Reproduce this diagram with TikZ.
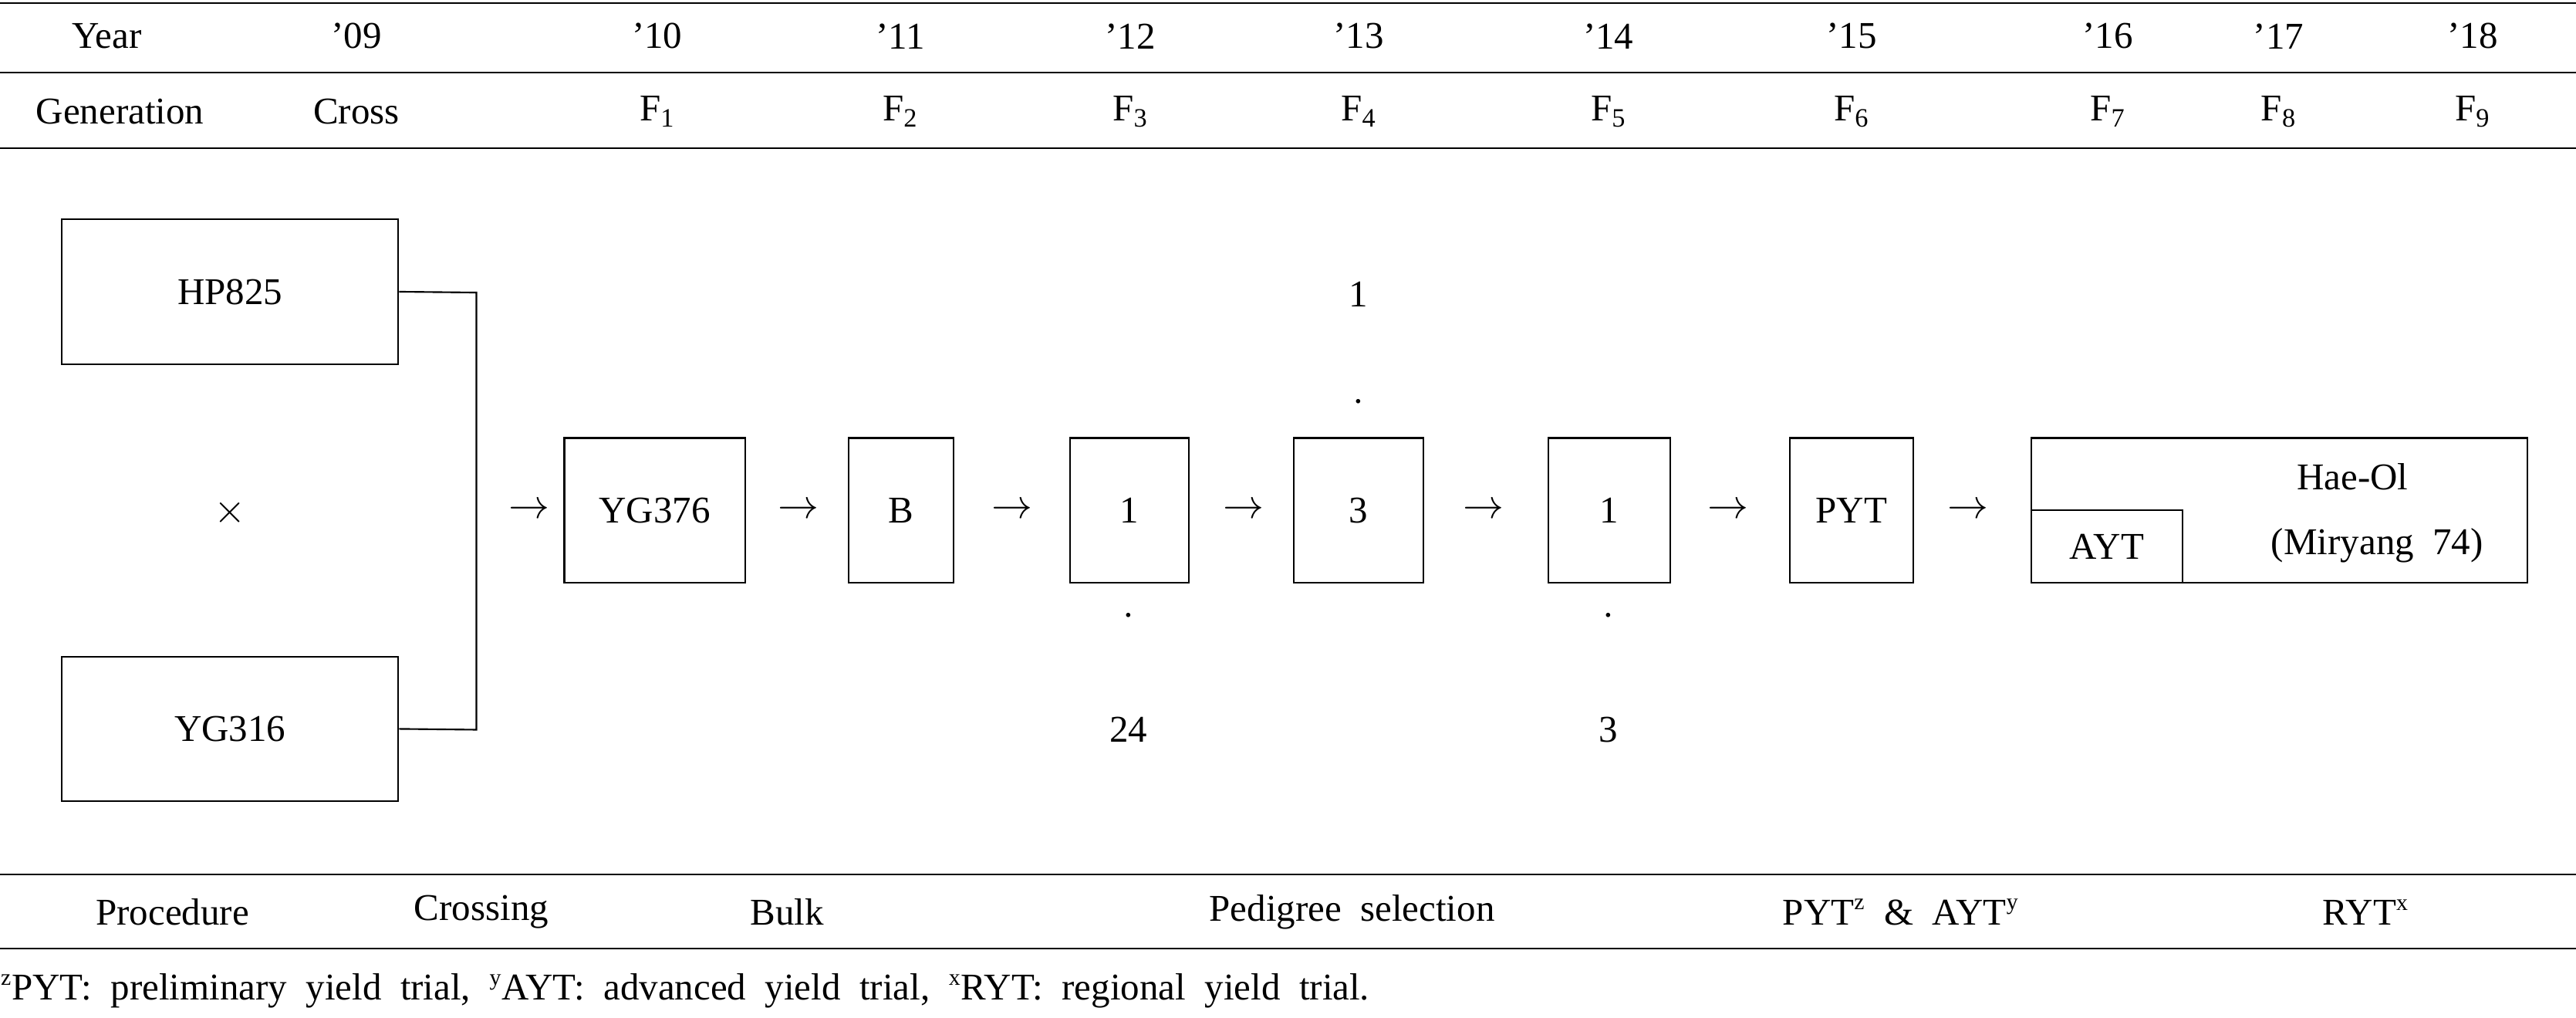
\documentclass[tikz,border=0pt]{standalone}
\usepackage{fontspec}
\setmainfont{Liberation Serif}
\begin{document}
\begin{tikzpicture}[x=1pt,y=1pt,line width=1pt,
  box/.style={draw,minimum width=#1,minimum height=88pt,inner sep=0pt,anchor=south west},
  txt/.style={inner sep=0pt,font=\fontsize{23}{27}\selectfont}]
\useasboundingbox (0,0) rectangle (1568,619);
\tikzset{every node/.append style={font=\fontsize{23}{27}\selectfont}}
% rules
\draw (0,617) -- (1568,617);
\draw (0,575) -- (1568,575);
\draw (0,529) -- (1568,529);
\draw (0,87) -- (1568,87);
\draw (0,42) -- (1568,42);
% header
\foreach \x/\t in {65/Year,217/'09,400/'10,548/'11,688/'12,827/'13,979/'14,1127/'15,1283/'16,1387/'17,1505/'18}
  \node[txt] (y\x) at (\x,597) {\t};
\node[txt] (g0) at (73,551) {Generation};
\node[txt] (g1) at (217,551) {Cross};
\foreach \x/\n in {400/1,548/2,688/3,827/4,979/5,1127/6,1283/7,1387/8,1505/9}
  \node[txt] (gf\n) at (\x,551) {F\textsubscript{\n}};
% boxes
\node[box=205pt] (hp) at (37,397) {HP825};
\node[box=205pt] (yg) at (37,131) {YG316};
\node[txt] (x) at (140,307) {$\times$};
\coordinate (j1) at (290,441);
\coordinate (j2) at (290,175);
\draw (hp.east) -- (j1) -- (j2) -- (yg.east);
\node[box=110pt] (b1) at (343,264) {YG376};
\node[box=64pt] (b2) at (516,264) {B};
\node[box=72pt] (b3) at (651,264) {1};
\node[box=79pt] (b4) at (787,264) {3};
\node[box=74pt] (b5) at (942,264) {1};
\node[box=75pt] (b6) at (1089,264) {PYT};
\node[box=302pt] (b7) at (1236,264) {};
\node[draw,minimum width=92pt,minimum height=44pt,inner sep=0pt,anchor=south west] (ayt) at (1236,264) {AYT};
\node[txt] (h1) at (1432,329) {Hae-Ol};
\node[txt] (h2) at (1447,287) {(Miryang\ \ 74)};
\foreach \x in {322,486,616,757,903,1052,1198}
  \node[txt] at (\x,308) {$\rightarrow$};
\node[txt] (d1) at (687,244) {$\cdot$};
\node[txt] (n24) at (687,175) {24};
\node[txt] (u1) at (827,440) {1};
\node[txt] (d2) at (827,374) {$\cdot$};
\node[txt] (d3) at (979,244) {$\cdot$};
\node[txt] (n3) at (979,175) {3};
% procedure
\node[txt] (p0) at (105,64) {Procedure};
\node[txt] (p1) at (293,64) {Crossing};
\node[txt] (p2) at (479,64) {Bulk};
\node[txt] (p3) at (823,64) {Pedigree\ \ selection};
\node[txt] (p4) at (1157,64) {PYT\textsuperscript{\fontsize{14}{16}\selectfont z}\ \ \&\ \ AYT\textsuperscript{\fontsize{14}{16}\selectfont y}};
\node[txt] (p5) at (1440,64) {RYT\textsuperscript{\fontsize{14}{16}\selectfont x}};
\node[txt,anchor=west] (fn) at (0,16) {\textsuperscript{\fontsize{14}{16}\selectfont z}PYT:\ \ preliminary\ \ yield\ \ trial,\ \ \textsuperscript{\fontsize{14}{16}\selectfont y}AYT:\ \ advanced\ \ yield\ \ trial,\ \ \textsuperscript{\fontsize{14}{16}\selectfont x}RYT:\ \ regional\ \ yield\ \ trial.};
\end{tikzpicture}
\end{document}
